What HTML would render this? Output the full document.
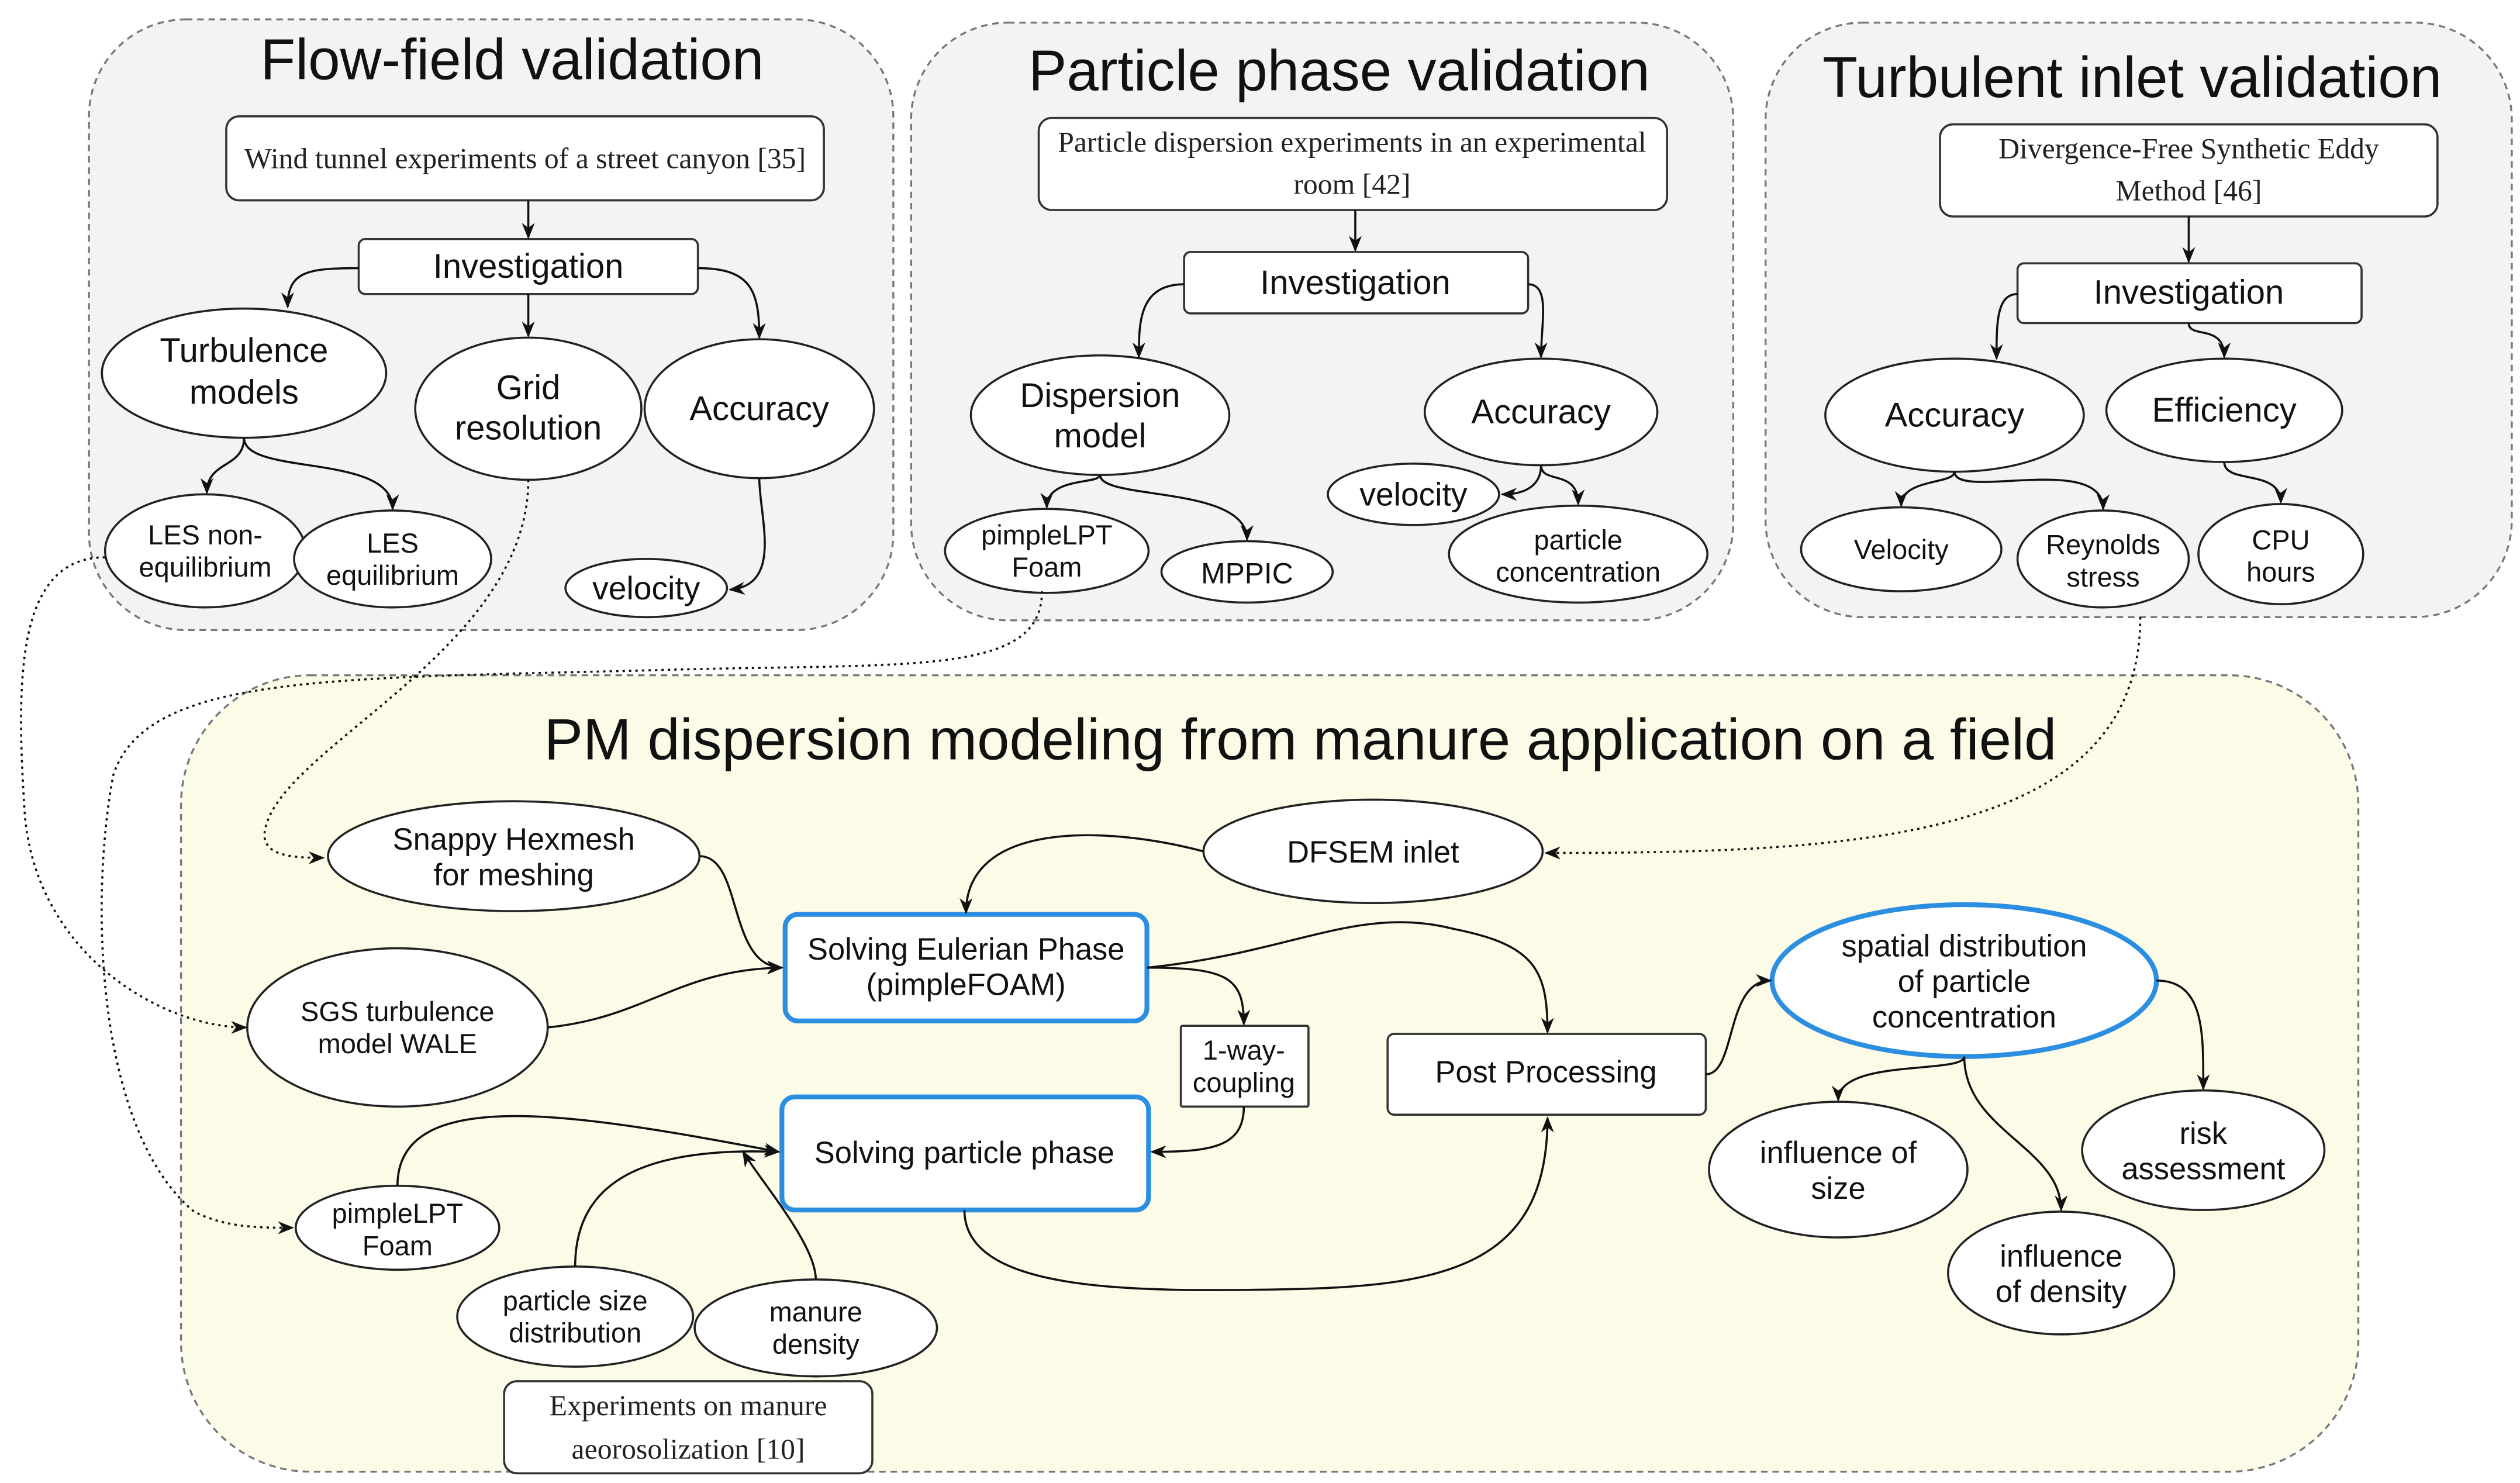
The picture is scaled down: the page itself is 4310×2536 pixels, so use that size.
<!DOCTYPE html>
<html><head><meta charset="utf-8"><style>
html,body{margin:0;padding:0;background:#fff}
svg{display:block}
.s{font-family:"Liberation Sans",sans-serif;fill:#111;text-anchor:middle}
.r{font-family:"Liberation Serif",serif;fill:#222;text-anchor:middle}
.e{fill:#fff;stroke:#222;stroke-width:1.3}
.b{fill:#fff;stroke:#333;stroke-width:1.3}
.bl{fill:#fff;stroke:#2b8ee0;stroke-width:3}
.c{fill:none;stroke:#111;stroke-width:1.3;marker-end:url(#a)}
.d{fill:none;stroke:#111;stroke-width:1.3;stroke-dasharray:1.5 2.5;marker-end:url(#a)}
.g{stroke:#777;stroke-width:1.2;stroke-dasharray:4 3}
</style></head><body>
<svg width="4310" height="2536" viewBox="0 0 1560 918" xmlns="http://www.w3.org/2000/svg">
<defs><marker id="a" markerWidth="10" markerHeight="8" refX="9" refY="4" orient="auto" markerUnits="userSpaceOnUse"><path d="M0,0 L10,4 L0,8 L3,4 z" fill="#111"/></marker></defs>

<rect x="55" y="12" width="498" height="378" rx="60" fill="#f3f3f3" class="g"/>
<rect x="564" y="14" width="509" height="370" rx="60" fill="#f3f3f3" class="g"/>
<rect x="1093" y="14" width="462" height="368" rx="60" fill="#f3f3f3" class="g"/>
<rect x="112" y="418" width="1348" height="493" rx="80" fill="#fcfbe8" class="g"/>

<text class="s" x="317" y="49" font-size="35.5">Flow-field validation</text>
<text class="s" x="829" y="56" font-size="35.5">Particle phase validation</text>
<text class="s" x="1320" y="60" font-size="35.5">Turbulent inlet validation</text>
<text class="s" x="805" y="470" font-size="36">PM dispersion modeling from manure application on a field</text>

<rect class="b" x="140" y="72" width="370" height="52" rx="8"/>
<text class="r" x="325" y="104" font-size="18">Wind tunnel experiments of a street canyon [35]</text>
<rect class="b" x="222" y="148" width="210" height="34" rx="4"/>
<text class="s" x="327" y="172" font-size="21">Investigation</text>
<ellipse class="e" cx="151" cy="231" rx="88" ry="40"/>
<text class="s" x="151" y="224" font-size="21">Turbulence</text><text class="s" x="151" y="250" font-size="21">models</text>
<ellipse class="e" cx="327" cy="253" rx="70" ry="44"/>
<text class="s" x="327" y="247" font-size="21">Grid</text><text class="s" x="327" y="272" font-size="21">resolution</text>
<ellipse class="e" cx="470" cy="253" rx="71" ry="43"/>
<text class="s" x="470" y="260" font-size="21">Accuracy</text>
<ellipse class="e" cx="127" cy="341" rx="62" ry="35"/>
<text class="s" x="127" y="337" font-size="17">LES non-</text><text class="s" x="127" y="357" font-size="17">equilibrium</text>
<ellipse class="e" cx="243" cy="346" rx="61" ry="30"/>
<text class="s" x="243" y="342" font-size="17">LES</text><text class="s" x="243" y="362" font-size="17">equilibrium</text>
<ellipse class="e" cx="400" cy="364" rx="50" ry="18"/>
<text class="s" x="400" y="371" font-size="20">velocity</text>
<path class="c" d="M327,124 L327,147"/>
<path class="c" d="M222,166 C190,166 178,168 178,190"/>
<path class="c" d="M327,182 L327,208"/>
<path class="c" d="M432,166 C465,166 470,180 470,209"/>
<path class="c" d="M151,271 C151,290 128,285 128,305"/>
<path class="c" d="M151,271 C151,295 243,280 243,315"/>
<path class="c" d="M470,296 C470,320 485,362 452,365"/>

<rect class="b" x="643" y="73" width="389" height="57" rx="8"/>
<text class="r" x="837" y="94" font-size="18">Particle dispersion experiments in an experimental</text>
<text class="r" x="837" y="120" font-size="18">room [42]</text>
<rect class="b" x="733" y="156" width="213" height="38" rx="4"/>
<text class="s" x="839" y="182" font-size="21">Investigation</text>
<ellipse class="e" cx="681" cy="257" rx="80" ry="37"/>
<text class="s" x="681" y="252" font-size="21">Dispersion</text><text class="s" x="681" y="277" font-size="21">model</text>
<ellipse class="e" cx="954" cy="255" rx="72" ry="33"/>
<text class="s" x="954" y="262" font-size="21">Accuracy</text>
<ellipse class="e" cx="875" cy="306" rx="53" ry="19"/>
<text class="s" x="875" y="313" font-size="20">velocity</text>
<ellipse class="e" cx="977" cy="343" rx="80" ry="30"/>
<text class="s" x="977" y="340" font-size="17">particle</text><text class="s" x="977" y="360" font-size="17">concentration</text>
<ellipse class="e" cx="648" cy="341" rx="63" ry="26"/>
<text class="s" x="648" y="337" font-size="17">pimpleLPT</text><text class="s" x="648" y="357" font-size="17">Foam</text>
<ellipse class="e" cx="772" cy="354" rx="53" ry="19"/>
<text class="s" x="772" y="361" font-size="18">MPPIC</text>
<path class="c" d="M839,130 L839,155"/>
<path class="c" d="M733,176 C705,176 705,200 705,221"/>
<path class="c" d="M946,176 C960,176 954,200 954,221"/>
<path class="c" d="M681,294 C681,300 648,295 648,314"/>
<path class="c" d="M681,294 C681,310 772,300 772,334"/>
<path class="c" d="M954,288 C954,300 945,306 930,306"/>
<path class="c" d="M954,288 C954,300 977,290 977,312"/>

<rect class="b" x="1201" y="77" width="308" height="57" rx="8"/>
<text class="r" x="1355" y="98" font-size="18">Divergence-Free Synthetic Eddy</text>
<text class="r" x="1355" y="124" font-size="18">Method [46]</text>
<rect class="b" x="1249" y="163" width="213" height="37" rx="4"/>
<text class="s" x="1355" y="188" font-size="21">Investigation</text>
<ellipse class="e" cx="1210" cy="257" rx="80" ry="35"/>
<text class="s" x="1210" y="264" font-size="21">Accuracy</text>
<ellipse class="e" cx="1377" cy="254" rx="73" ry="32"/>
<text class="s" x="1377" y="261" font-size="21">Efficiency</text>
<ellipse class="e" cx="1177" cy="340" rx="62" ry="26"/>
<text class="s" x="1177" y="346" font-size="17">Velocity</text>
<ellipse class="e" cx="1302" cy="346" rx="53" ry="30"/>
<text class="s" x="1302" y="343" font-size="17">Reynolds</text><text class="s" x="1302" y="363" font-size="17">stress</text>
<ellipse class="e" cx="1412" cy="343" rx="51" ry="31"/>
<text class="s" x="1412" y="340" font-size="17">CPU</text><text class="s" x="1412" y="360" font-size="17">hours</text>
<path class="c" d="M1355,134 L1355,162"/>
<path class="c" d="M1249,182 C1236,182 1236,200 1236,222"/>
<path class="c" d="M1355,200 C1355,210 1377,200 1377,221"/>
<path class="c" d="M1210,292 C1210,300 1177,296 1177,313"/>
<path class="c" d="M1210,292 C1210,310 1302,280 1302,315"/>
<path class="c" d="M1377,286 C1377,300 1412,290 1412,311"/>

<ellipse class="e" cx="318" cy="530" rx="115" ry="34"/>
<text class="s" x="318" y="526" font-size="19">Snappy Hexmesh</text><text class="s" x="318" y="548" font-size="19">for meshing</text>
<ellipse class="e" cx="246" cy="636" rx="93" ry="49"/>
<text class="s" x="246" y="632" font-size="17">SGS turbulence</text><text class="s" x="246" y="652" font-size="17">model WALE</text>
<ellipse class="e" cx="246" cy="760" rx="63" ry="26"/>
<text class="s" x="246" y="757" font-size="17">pimpleLPT</text><text class="s" x="246" y="777" font-size="17">Foam</text>
<ellipse class="e" cx="356" cy="815" rx="73" ry="31"/>
<text class="s" x="356" y="811" font-size="17">particle size</text><text class="s" x="356" y="831" font-size="17">distribution</text>
<ellipse class="e" cx="505" cy="822" rx="75" ry="30"/>
<text class="s" x="505" y="818" font-size="17">manure</text><text class="s" x="505" y="838" font-size="17">density</text>
<rect class="b" x="312" y="855" width="228" height="57" rx="8"/>
<text class="r" x="426" y="876" font-size="18">Experiments on manure</text>
<text class="r" x="426" y="903" font-size="18">aeorosolization [10]</text>
<rect class="bl" x="486" y="566" width="224" height="66" rx="8"/>
<text class="s" x="598" y="594" font-size="19">Solving Eulerian Phase</text><text class="s" x="598" y="616" font-size="19">(pimpleFOAM)</text>
<rect class="bl" x="484" y="679" width="227" height="70" rx="8"/>
<text class="s" x="597" y="720" font-size="19">Solving particle phase</text>
<rect class="b" x="731" y="635" width="79" height="50" rx="1"/>
<text class="s" x="770" y="656" font-size="17">1-way-</text><text class="s" x="770" y="676" font-size="17">coupling</text>
<ellipse class="e" cx="850" cy="527" rx="105" ry="32"/>
<text class="s" x="850" y="534" font-size="19">DFSEM inlet</text>
<rect class="b" x="859" y="640" width="197" height="50" rx="4"/>
<text class="s" x="957" y="670" font-size="19">Post Processing</text>
<ellipse cx="1216" cy="607" rx="119" ry="47" fill="#fff" stroke="#2b8ee0" stroke-width="3"/>
<text class="s" x="1216" y="592" font-size="19">spatial distribution</text>
<text class="s" x="1216" y="614" font-size="19">of particle</text>
<text class="s" x="1216" y="636" font-size="19">concentration</text>
<ellipse class="e" cx="1364" cy="712" rx="75" ry="37"/>
<text class="s" x="1364" y="708" font-size="19">risk</text><text class="s" x="1364" y="730" font-size="19">assessment</text>
<ellipse class="e" cx="1138" cy="724" rx="80" ry="42"/>
<text class="s" x="1138" y="720" font-size="19">influence of</text><text class="s" x="1138" y="742" font-size="19">size</text>
<ellipse class="e" cx="1276" cy="788" rx="70" ry="38"/>
<text class="s" x="1276" y="784" font-size="19">influence</text><text class="s" x="1276" y="806" font-size="19">of density</text>

<path class="c" d="M433,530 C460,530 450,598 484,599"/>
<path class="c" d="M339,636 C400,630 420,600 484,599"/>
<path class="c" d="M745,527 C680,510 598,510 598,565"/>
<path class="c" d="M710,599 C760,599 770,605 770,634"/>
<path class="c" d="M770,685 C770,710 750,713 713,713"/>
<path class="c" d="M710,599 C800,590 840,560 900,575 C950,585 958,600 958,639"/>
<path class="c" d="M597,749 C597,800 700,800 800,798 C900,796 958,780 958,692"/>
<path class="c" d="M246,734 C246,670 360,690 482,713"/>
<path class="c" d="M356,784 C356,730 400,710 482,713"/>
<path class="c" d="M505,792 C505,770 470,730 460,713"/>
<path class="c" d="M1056,665 C1075,665 1068,607 1096,607"/>
<path class="c" d="M1335,607 C1365,607 1364,640 1364,674"/>
<path class="c" d="M1216,654 C1216,665 1138,655 1138,681"/>
<path class="c" d="M1216,654 C1216,700 1276,710 1276,749"/>

<path class="d" d="M327,297 C327,400 180,460 165,510 C158,530 180,531 200,531"/>
<path class="d" d="M65,345 C10,345 10,420 15,500 C20,590 100,636 152,636"/>
<path class="d" d="M645,366 C645,420 560,410 400,415 C200,420 90,418 70,480 C55,560 60,700 120,750 C140,760 160,760 181,760"/>
<path class="d" d="M1325,382 C1325,520 1150,528 957,528"/>
</svg>
</body></html>
